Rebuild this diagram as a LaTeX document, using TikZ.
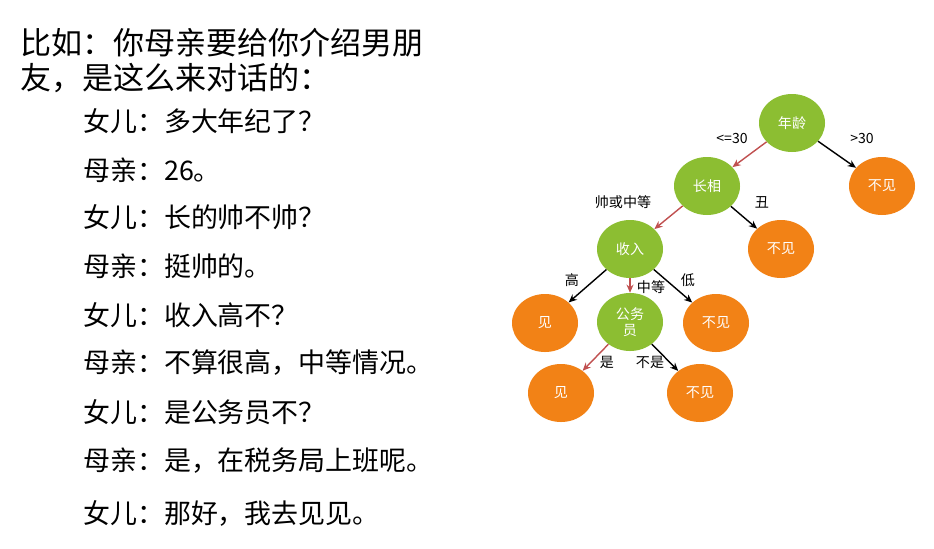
\documentclass[tikz,border=0pt]{standalone}
\usepackage{fontspec}
\setmainfont{Liberation Sans}
\newfontfamily\cjk{Noto Sans CJK SC}
\usetikzlibrary{arrows.meta,shapes.geometric}
\definecolor{treegreen}{RGB}{140,190,50}
\definecolor{treeorange}{RGB}{242,130,22}
\definecolor{treered}{RGB}{192,80,80}

\begin{document}
\begin{tikzpicture}[x=0.03cm, y=-0.03cm,
    test/.style={ellipse, fill=treegreen, text=white, minimum width=1.98cm, minimum height=1.74cm,
        inner sep=0pt, font=\cjk\fontsize{12}{14}\selectfont, align=center},
    leaf/.style={test, fill=treeorange},
    lbl/.style={font=\cjk\fontsize{12}{14}\selectfont, inner sep=1pt},
    yes/.style={-{Stealth[length=7pt,width=6pt]}, treered, line width=1.2pt},
    no/.style={-{Stealth[length=7pt,width=6pt]}, black, line width=1.2pt}]
    \useasboundingbox (0,0) rectangle (934,548);

    % question and the talk
    \node[anchor=west, inner sep=0pt, font=\cjk\fontsize{26.5}{30}\selectfont] (head1) at (20,43) {比如：你母亲要给你介绍男朋};
    \node[anchor=west, inner sep=0pt, font=\cjk\fontsize{26.5}{30}\selectfont] (head2) at (20,78) {友，是这么来对话的：};
    \foreach \y/\t [count=\i] in {121/女儿：多大年纪了？, 170/母亲：26。, 217/女儿：长的帅不帅？,
        266/母亲：挺帅的。, 315/女儿：收入高不？, 363/母亲：不算很高，中等情况。,
        412/女儿：是公务员不？, 461/母亲：是，在税务局上班呢。, 513/女儿：那好，我去见见。}
        \node[anchor=west, inner sep=0pt, font=\cjk\fontsize{23}{27}\selectfont] (line\i) at (83,\y) {\t};

    % the tree
    \node[test] (age) at (792,123) {年龄};
    \node[leaf] (agenot) at (882,186) {不见};
    \node[test] (looks) at (707,186) {长相};
    \node[leaf] (looksnot) at (781,249) {不见};
    \node[test] (income) at (630,249) {收入};
    \node[leaf] (incyes) at (545,323) {见};
    \node[test] (civil) at (630,322) {公务\\员};
    \node[leaf] (incnot) at (716,323) {不见};
    \node[leaf] (civyes) at (561,393) {见};
    \node[leaf] (civnot) at (700,393) {不见};

    \draw[yes] (age) -- (looks);
    \draw[no] (age) -- (agenot);
    \draw[yes] (looks) -- (income);
    \draw[no] (looks) -- (looksnot);
    \draw[no] (income) -- (incyes);
    \draw[yes] (income) -- (civil);
    \draw[no] (income) -- (incnot);
    \draw[yes] (civil) -- (civyes);
    \draw[no] (civil) -- (civnot);

    \node[lbl] (l1) at (732,138) {<=30};
    \node[lbl] (l2) at (862,138) {>30};
    \node[lbl] (l3) at (623,202) {帅或中等};
    \node[lbl] (l4) at (762,202) {丑};
    \node[lbl] (l5) at (572,280) {高};
    \node[lbl] (l6) at (651,287) {中等};
    \node[lbl] (l7) at (688,280) {低};
    \node[lbl] (l8) at (607,362) {是};
    \node[lbl] (l9) at (650,362) {不是};
\end{tikzpicture}
\end{document}
